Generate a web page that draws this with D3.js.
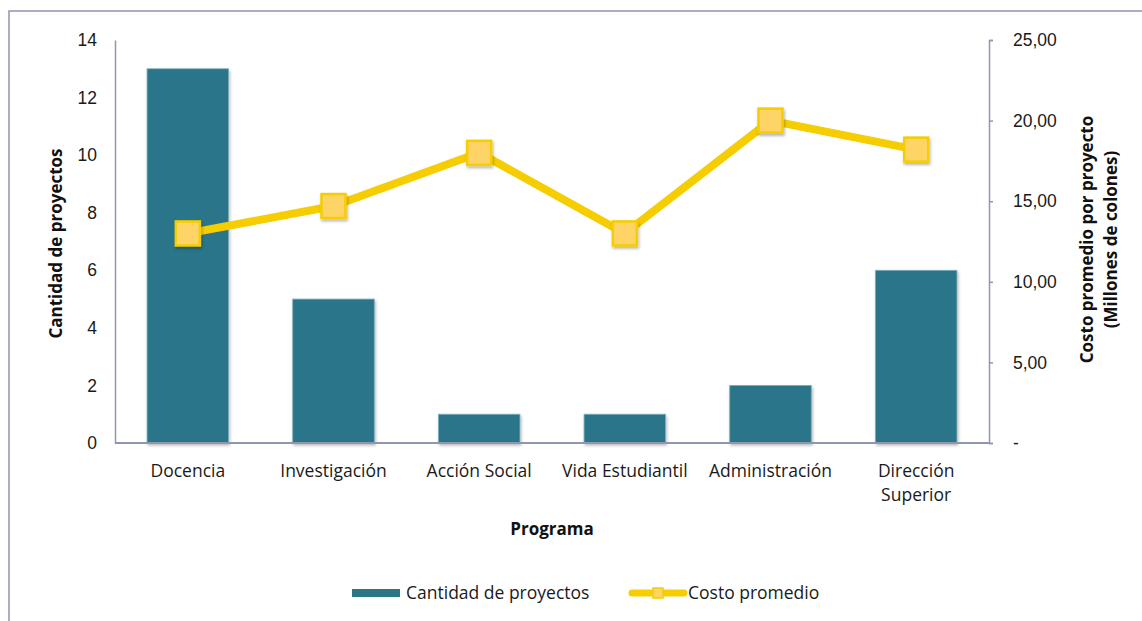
<!DOCTYPE html>
<html>
<head>
<meta charset="utf-8">
<script src="https://cdn.jsdelivr.net/npm/d3@7"></script>
<style>
  body { margin: 0; background: #fff; }
  svg { font-family: "Open Sans", Lato, sans-serif; }
  .tick text { font-size: 17.5px; fill: #1a1a1a; }
</style>
</head>
<body>
<div id="chart"></div>
<script>
const programas = ['Docencia', 'Investigación', 'Acción Social', 'Vida Estudiantil', 'Administración', 'Dirección Superior'];
const cantidad = [13, 5, 1, 1, 2, 6];
const costo = [13.0, 14.7, 18.0, 13.0, 20.0, 18.2];
const leftTicks = [0, 2, 4, 6, 8, 10, 12, 14];
const rightTicks = [0, 5, 10, 15, 20, 25];

const width = 1142, height = 621;
const margin = { top: 40, right: 153, bottom: 178, left: 115 };
const innerW = width - margin.left - margin.right;
const innerH = height - margin.top - margin.bottom;

const barColor = '#2c7589';
const lineColor = '#f5cd00';
const markerFill = '#ffd466';
const axisColor = '#8e97ad';
const labelSize = '17.5px';
const titleSize = '17px';

const svg = d3.select('#chart').append('svg')
  .attr('width', width)
  .attr('height', height);

const defs = svg.append('defs');
const shadow = defs.append('filter').attr('id', 'shadow')
  .attr('x', '-30%').attr('y', '-30%').attr('width', '160%').attr('height', '160%');
shadow.append('feDropShadow')
  .attr('dx', 1).attr('dy', 2).attr('stdDeviation', 1.6)
  .attr('flood-color', '#000').attr('flood-opacity', 0.3);

// outer frame (runs off the right and bottom edges)
svg.append('rect')
  .attr('x', 9).attr('y', 11)
  .attr('width', width + 20).attr('height', height + 20)
  .attr('fill', 'none')
  .attr('stroke', axisColor)
  .attr('stroke-width', 1.5);

const g = svg.append('g').attr('transform', `translate(${margin.left},${margin.top})`);

const x = d3.scaleBand().domain(programas).range([0, innerW]).paddingInner(0.44).paddingOuter(0.22);
const xc = d3.scaleBand().domain(programas).range([0, innerW]);
const yL = d3.scaleLinear().domain([0, 14]).range([innerH, 0]);
const yR = d3.scaleLinear().domain([0, 25]).range([innerH, 0]);

// bars
g.selectAll('.bar')
  .data(programas)
  .enter().append('rect')
    .attr('class', 'bar')
    .attr('x', (d) => xc(d) + (xc.bandwidth() - x.bandwidth()) / 2)
    .attr('y', (d, i) => yL(cantidad[i]))
    .attr('width', x.bandwidth())
    .attr('height', (d, i) => innerH - yL(cantidad[i]))
    .attr('fill', barColor)
    .attr('stroke', '#7fb0bf')
    .attr('stroke-width', 0.8)
    .attr('filter', 'url(#shadow)');

// left axis
const axL = g.append('g')
  .call(d3.axisLeft(yL).tickValues(leftTicks).tickSize(0).tickPadding(18));
axL.select('.domain').attr('stroke', axisColor).attr('stroke-width', 1.5);

// right axis
const fmt = (v) => v === 0 ? '-' : d3.format('.2f')(v).replace('.', ',');
const axR = g.append('g')
  .attr('transform', `translate(${innerW},0)`)
  .call(d3.axisRight(yR).tickValues(rightTicks).tickSize(4).tickSizeOuter(4).tickPadding(20).tickFormat(fmt));
axR.select('.domain').attr('stroke', axisColor).attr('stroke-width', 1.5);
axR.selectAll('.tick line').attr('stroke', axisColor).attr('stroke-width', 1.5);

// bottom axis line
g.append('line')
  .attr('x1', 0).attr('x2', innerW)
  .attr('y1', innerH).attr('y2', innerH)
  .attr('stroke', axisColor).attr('stroke-width', 2);

// category labels
const labelLines = { 'Dirección Superior': ['Dirección', 'Superior'] };
g.selectAll('.cat')
  .data(programas)
  .enter().append('text')
    .attr('class', 'cat')
    .attr('x', (d) => xc(d) + xc.bandwidth() / 2)
    .attr('y', innerH + 34)
    .attr('text-anchor', 'middle')
    .style('font-size', labelSize)
    .attr('fill', '#1a1a1a')
    .each(function(d) {
      const lines = labelLines[d] || [d];
      const t = d3.select(this);
      lines.forEach((l, i) => {
        t.append('tspan')
          .attr('x', xc(d) + xc.bandwidth() / 2)
          .attr('dy', i === 0 ? 0 : 24)
          .text(l);
      });
    });

// line series
const line = d3.line()
  .x((d, i) => xc(programas[i]) + xc.bandwidth() / 2)
  .y((d) => yR(d));

g.append('path')
  .datum(costo)
  .attr('d', line)
  .attr('fill', 'none')
  .attr('stroke', lineColor)
  .attr('stroke-width', 8)
  .attr('stroke-linejoin', 'round');

const ms = 24;
g.selectAll('.marker')
  .data(costo)
  .enter().append('rect')
    .attr('class', 'marker')
    .attr('x', (d, i) => xc(programas[i]) + xc.bandwidth() / 2 - ms / 2)
    .attr('y', (d) => yR(d) - ms / 2)
    .attr('width', ms)
    .attr('height', ms)
    .attr('fill', markerFill)
    .attr('stroke', lineColor)
    .attr('stroke-width', 2.5)
    .attr('filter', 'url(#shadow)');

// axis titles
svg.append('text')
  .attr('transform', `translate(62,${margin.top + innerH / 2 + 2}) rotate(-90)`)
  .attr('text-anchor', 'middle')
  .style('font-size', titleSize)
  .style('font-weight', 'bold')
  .attr('fill', '#111')
  .text('Cantidad de proyectos');

const rt = svg.append('text')
  .attr('transform', `translate(1093,${margin.top + innerH / 2 - 2}) rotate(-90)`)
  .attr('text-anchor', 'middle')
  .style('font-size', titleSize)
  .style('font-weight', 'bold')
  .attr('fill', '#111');
rt.append('tspan').attr('x', 0).attr('dy', 0).text('Costo promedio por proyecto');
rt.append('tspan').attr('x', 0).attr('dy', 24).text('(Millones de colones)');

svg.append('text')
  .attr('x', 552).attr('y', 535)
  .attr('text-anchor', 'middle')
  .style('font-size', titleSize)
  .style('font-weight', 'bold')
  .attr('fill', '#111')
  .text('Programa');

// legend
const lg = svg.append('g').attr('transform', 'translate(0,593)');
lg.append('rect')
  .attr('x', 352).attr('y', -4).attr('width', 48).attr('height', 8)
  .attr('fill', barColor);
lg.append('text')
  .attr('x', 406).attr('y', 6)
  .style('font-size', labelSize).attr('fill', '#1a1a1a')
  .text('Cantidad de proyectos');
lg.append('line')
  .attr('x1', 632).attr('x2', 684).attr('y1', 0).attr('y2', 0)
  .attr('stroke', lineColor).attr('stroke-width', 7).attr('stroke-linecap', 'round');
lg.append('rect')
  .attr('x', 653).attr('y', -5).attr('width', 10).attr('height', 10)
  .attr('fill', markerFill).attr('stroke', lineColor).attr('stroke-width', 1.5);
lg.append('text')
  .attr('x', 688).attr('y', 6)
  .style('font-size', labelSize).attr('fill', '#1a1a1a')
  .text('Costo promedio');
</script>
</body>
</html>
